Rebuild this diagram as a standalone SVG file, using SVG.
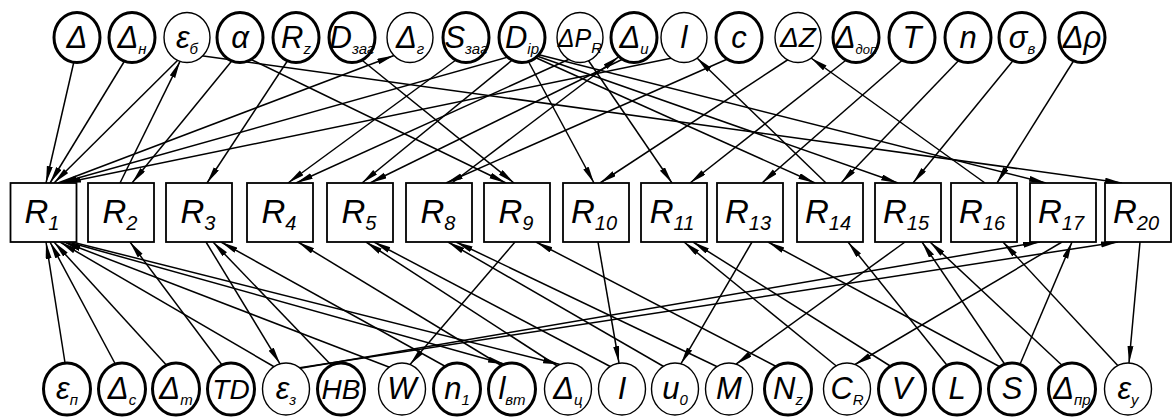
<svg xmlns="http://www.w3.org/2000/svg" width="1174" height="419" viewBox="0 0 1174 419">
<defs>
<marker id="ah" markerUnits="userSpaceOnUse" markerWidth="18" markerHeight="7" refX="17" refY="3" orient="auto">
<path d="M0,0 L17,3 L0,6 z" fill="#000"/>
</marker>
<style>
.nd{fill:#fff;stroke:#000}
.b{stroke-width:3}
.t{stroke-width:1.4}
.box{fill:#fff;stroke:#000;stroke-width:1.8}
.e{stroke:#000;stroke-width:1.5;fill:none}
.a{marker-end:url(#ah)}
text{font-family:"Liberation Sans Narrow","Liberation Sans","DejaVu Sans",sans-serif;font-style:italic;fill:#000;text-anchor:middle}
.m{font-size:31px}
.r{font-size:33px}
.s{font-size:15px}
.rs{font-size:20px}
</style>
</defs>
<rect width="1174" height="419" fill="#fff"/>
<g id="connectors">
<line class="e a" x1="75" y1="57" x2="46" y2="183"/>
<line class="e a" x1="127" y1="57" x2="50" y2="183"/>
<line class="e a" x1="181" y1="57" x2="54" y2="183"/>
<line class="e a" x1="196" y1="55" x2="1122" y2="183"/>
<line class="e a" x1="235" y1="57" x2="132" y2="183"/>
<line class="e a" x1="246" y1="57" x2="506" y2="183"/>
<line class="e a" x1="290" y1="57" x2="207" y2="183"/>
<line class="e a" x1="358" y1="57" x2="514" y2="183"/>
<line class="e a" x1="460" y1="57" x2="288" y2="183"/>
<line class="e a" x1="512" y1="56" x2="60" y2="183"/>
<line class="e a" x1="516" y1="57" x2="362" y2="183"/>
<line class="e a" x1="526" y1="57" x2="594" y2="183"/>
<line class="e a" x1="532" y1="56" x2="815" y2="183"/>
<line class="e a" x1="534" y1="55" x2="898" y2="183"/>
<line class="e a" x1="536" y1="54" x2="1046" y2="183"/>
<line class="e a" x1="574" y1="57" x2="296" y2="183"/>
<line class="e a" x1="586" y1="57" x2="672" y2="183"/>
<line class="e a" x1="627" y1="57" x2="370" y2="183"/>
<line class="e a" x1="677" y1="57" x2="64" y2="183"/>
<line class="e a" x1="732" y1="57" x2="446" y2="183"/>
<line class="e a" x1="792" y1="57" x2="600" y2="183"/>
<line class="e a" x1="850" y1="57" x2="690" y2="183"/>
<line class="e a" x1="906" y1="57" x2="762" y2="183"/>
<line class="e a" x1="962" y1="57" x2="841" y2="183"/>
<line class="e a" x1="1016" y1="57" x2="913" y2="183"/>
<line class="e a" x1="1076" y1="57" x2="997" y2="183"/>
<line class="e a" x1="120" y1="183" x2="180" y2="61.4"/>
<line class="e a" x1="58" y1="183" x2="394" y2="55.5"/>
<line class="e a" x1="452" y1="183" x2="619" y2="56.5"/>
<line class="e a" x1="826" y1="183" x2="697" y2="58"/>
<line class="e a" x1="985" y1="183" x2="811" y2="58"/>
<line class="e a" x1="66" y1="369" x2="46" y2="242"/>
<line class="e a" x1="118" y1="369" x2="50" y2="242"/>
<line class="e a" x1="170" y1="369" x2="54" y2="242"/>
<line class="e a" x1="278" y1="369" x2="60" y2="242"/>
<line class="e a" x1="394" y1="369" x2="64" y2="242"/>
<line class="e a" x1="68" y1="242" x2="505" y2="364.2"/>
<line class="e a" x1="72" y1="242" x2="560" y2="364.5"/>
<line class="e a" x1="225" y1="369" x2="130" y2="242"/>
<line class="e a" x1="206" y1="242" x2="280" y2="363.8"/>
<line class="e a" x1="335" y1="369" x2="213" y2="242"/>
<line class="e a" x1="450" y1="369" x2="221" y2="242"/>
<line class="e a" x1="507" y1="369" x2="298" y2="242"/>
<line class="e a" x1="562" y1="369" x2="366" y2="242"/>
<line class="e a" x1="615" y1="369" x2="374" y2="242"/>
<line class="e a" x1="668" y1="369" x2="448" y2="242"/>
<line class="e a" x1="722" y1="369" x2="456" y2="242"/>
<line class="e a" x1="515" y1="242" x2="410" y2="364.5"/>
<line class="e a" x1="781" y1="369" x2="536" y2="242"/>
<line class="e a" x1="598" y1="242" x2="619" y2="363"/>
<line class="e a" x1="840" y1="369" x2="684" y2="242"/>
<line class="e a" x1="895" y1="369" x2="693" y2="242"/>
<line class="e a" x1="752" y1="242" x2="681" y2="363.7"/>
<line class="e a" x1="1004" y1="369" x2="768" y2="242"/>
<line class="e a" x1="950" y1="369" x2="848" y2="242"/>
<line class="e a" x1="1008" y1="369" x2="922" y2="242"/>
<line class="e a" x1="1066" y1="369" x2="930" y2="242"/>
<line class="e a" x1="1121" y1="369" x2="1003" y2="242"/>
<line class="e a" x1="905" y1="242" x2="736" y2="364.2"/>
<line class="e a" x1="1062" y1="242" x2="855" y2="364.5"/>
<line class="e a" x1="1018" y1="369" x2="1072" y2="242"/>
<line class="e a" x1="1140" y1="242" x2="1129" y2="363"/>
<line class="e a" x1="296" y1="369" x2="1040" y2="242"/>
<line class="e a" x1="298" y1="368" x2="1118" y2="242"/>
</g>
<g id="t_delta"><ellipse class="nd b" cx="77" cy="37.5" rx="23" ry="25"/><text class="m" x="77" y="48">Δ</text></g>
<g id="t_deltaN"><ellipse class="nd b" cx="132" cy="37.5" rx="23" ry="25"/><text class="m" x="132" y="48">Δ<tspan class="s" dy="6">н</tspan></text></g>
<g id="t_epsB"><ellipse class="nd t" cx="187" cy="37.5" rx="23" ry="25"/><text class="m" x="187" y="48">ε<tspan class="s" dy="6">б</tspan></text></g>
<g id="t_alpha"><ellipse class="nd b" cx="240" cy="37.5" rx="23" ry="25"/><text class="m" x="240" y="48">α</text></g>
<g id="t_Rz"><ellipse class="nd b" cx="296" cy="37.5" rx="23" ry="25"/><text class="m" x="296" y="48">R<tspan class="s" dy="6">z</tspan></text></g>
<g id="t_Dzag"><ellipse class="nd b" cx="352" cy="37.5" rx="23" ry="25"/><text class="m" x="352" y="48">D<tspan class="s" dy="6">заг</tspan></text></g>
<g id="t_deltaG"><ellipse class="nd t" cx="410" cy="37.5" rx="23" ry="25"/><text class="m" x="410" y="48">Δ<tspan class="s" dy="6">г</tspan></text></g>
<g id="t_Szag"><ellipse class="nd b" cx="466" cy="37.5" rx="23" ry="25"/><text class="m" x="466" y="48">S<tspan class="s" dy="6">заг</tspan></text></g>
<g id="t_Dip"><ellipse class="nd b" cx="522" cy="37.5" rx="23" ry="25"/><text class="m" x="522" y="48">D<tspan class="s" dy="6">ip</tspan></text></g>
<g id="t_dPR"><ellipse class="nd t" cx="580" cy="37.5" rx="23" ry="25"/><text class="m" x="580" y="47" style="font-size:25px">ΔP<tspan class="s" dy="6">R</tspan></text></g>
<g id="t_deltaI"><ellipse class="nd b" cx="634" cy="37.5" rx="23" ry="25"/><text class="m" x="634" y="48">Δ<tspan class="s" dy="6">и</tspan></text></g>
<g id="t_l"><ellipse class="nd t" cx="684" cy="37.5" rx="23" ry="25"/><text class="m" x="684" y="48">l</text></g>
<g id="t_c"><ellipse class="nd b" cx="739" cy="37.5" rx="23" ry="25"/><text class="m" x="739" y="48">c</text></g>
<g id="t_dZ"><ellipse class="nd t" cx="798" cy="37.5" rx="23" ry="25"/><text class="m" x="798" y="47" style="font-size:28px">ΔZ</text></g>
<g id="t_dDop"><ellipse class="nd b" cx="856" cy="37.5" rx="23" ry="25"/><text class="m" x="856" y="48">Δ<tspan class="s" dy="6" style="font-size:13px">доп</tspan></text></g>
<g id="t_T"><ellipse class="nd b" cx="912" cy="37.5" rx="23" ry="25"/><text class="m" x="912" y="48">T</text></g>
<g id="t_n"><ellipse class="nd b" cx="968" cy="37.5" rx="23" ry="25"/><text class="m" x="968" y="48">n</text></g>
<g id="t_sigma"><ellipse class="nd b" cx="1022" cy="37.5" rx="23" ry="25"/><text class="m" x="1022" y="48">σ<tspan class="s" dy="6">в</tspan></text></g>
<g id="t_rho"><ellipse class="nd b" cx="1082" cy="37.5" rx="23" ry="25"/><text class="m" x="1082" y="48">Δρ</text></g>
<g id="R1"><rect class="box" x="10.5" y="183" width="66" height="59"/><text class="r" x="42" y="223">R<tspan class="rs" dy="7">1</tspan></text></g>
<g id="R2"><rect class="box" x="88" y="183" width="66" height="59"/><text class="r" x="120" y="223">R<tspan class="rs" dy="7">2</tspan></text></g>
<g id="R3"><rect class="box" x="166" y="183" width="66" height="59"/><text class="r" x="198" y="223">R<tspan class="rs" dy="7">3</tspan></text></g>
<g id="R4"><rect class="box" x="247" y="183" width="66" height="59"/><text class="r" x="279" y="223">R<tspan class="rs" dy="7">4</tspan></text></g>
<g id="R5"><rect class="box" x="327" y="183" width="66" height="59"/><text class="r" x="359" y="223">R<tspan class="rs" dy="7">5</tspan></text></g>
<g id="R8"><rect class="box" x="406" y="183" width="66" height="59"/><text class="r" x="438" y="223">R<tspan class="rs" dy="7">8</tspan></text></g>
<g id="R9"><rect class="box" x="484" y="183" width="66" height="59"/><text class="r" x="516" y="223">R<tspan class="rs" dy="7">9</tspan></text></g>
<g id="R10"><rect class="box" x="563" y="183" width="66" height="59"/><text class="r" x="594" y="223">R<tspan class="rs" dy="7">10</tspan></text></g>
<g id="R11"><rect class="box" x="641" y="183" width="66" height="59"/><text class="r" x="672" y="223">R<tspan class="rs" dy="7">11</tspan></text></g>
<g id="R13"><rect class="box" x="717" y="183" width="66" height="59"/><text class="r" x="748" y="223">R<tspan class="rs" dy="7">13</tspan></text></g>
<g id="R14"><rect class="box" x="797" y="183" width="66" height="59"/><text class="r" x="828" y="223">R<tspan class="rs" dy="7">14</tspan></text></g>
<g id="R15"><rect class="box" x="875" y="183" width="66" height="59"/><text class="r" x="906" y="223">R<tspan class="rs" dy="7">15</tspan></text></g>
<g id="R16"><rect class="box" x="951" y="183" width="66" height="59"/><text class="r" x="982" y="223">R<tspan class="rs" dy="7">16</tspan></text></g>
<g id="R17"><rect class="box" x="1030" y="183" width="66" height="59"/><text class="r" x="1061" y="223">R<tspan class="rs" dy="7">17</tspan></text></g>
<g id="R20"><rect class="box" x="1105" y="183" width="66" height="59"/><text class="r" x="1136" y="223">R<tspan class="rs" dy="7">20</tspan></text></g>
<g id="b_epsP"><ellipse class="nd b" cx="67" cy="389" rx="23.5" ry="26"/><text class="m" x="67" y="399">ε<tspan class="s" dy="6">п</tspan></text></g>
<g id="b_dC"><ellipse class="nd b" cx="122" cy="389" rx="23.5" ry="26"/><text class="m" x="122" y="399">Δ<tspan class="s" dy="6">с</tspan></text></g>
<g id="b_dT"><ellipse class="nd b" cx="176" cy="389" rx="23.5" ry="26"/><text class="m" x="176" y="399">Δ<tspan class="s" dy="6">т</tspan></text></g>
<g id="b_TD"><ellipse class="nd b" cx="231" cy="389" rx="23.5" ry="26"/><text class="m" x="231" y="399" style="font-size:28px">TD</text></g>
<g id="b_epsZ"><ellipse class="nd t" cx="286" cy="389" rx="23.5" ry="26"/><text class="m" x="286" y="399">ε<tspan class="s" dy="6">з</tspan></text></g>
<g id="b_HB"><ellipse class="nd b" cx="341" cy="389" rx="23.5" ry="26"/><text class="m" x="341" y="399" style="font-size:28px">HB</text></g>
<g id="b_W"><ellipse class="nd t" cx="402" cy="389" rx="23.5" ry="26"/><text class="m" x="402" y="399">W</text></g>
<g id="b_n1"><ellipse class="nd b" cx="457" cy="389" rx="23.5" ry="26"/><text class="m" x="457" y="399">n<tspan class="s" dy="6">1</tspan></text></g>
<g id="b_lvt"><ellipse class="nd b" cx="512" cy="389" rx="23.5" ry="26"/><text class="m" x="512" y="399">l<tspan class="s" dy="6">вт</tspan></text></g>
<g id="b_dTs"><ellipse class="nd t" cx="568" cy="389" rx="23.5" ry="26"/><text class="m" x="568" y="399">Δ<tspan class="s" dy="6">ц</tspan></text></g>
<g id="b_I"><ellipse class="nd t" cx="622" cy="389" rx="23.5" ry="26"/><text class="m" x="622" y="399">I</text></g>
<g id="b_u0"><ellipse class="nd t" cx="675" cy="389" rx="23.5" ry="26"/><text class="m" x="675" y="399">u<tspan class="s" dy="6">0</tspan></text></g>
<g id="b_M"><ellipse class="nd t" cx="729" cy="389" rx="23.5" ry="26"/><text class="m" x="729" y="399">M</text></g>
<g id="b_Nz"><ellipse class="nd b" cx="788" cy="389" rx="23.5" ry="26"/><text class="m" x="788" y="399">N<tspan class="s" dy="6">z</tspan></text></g>
<g id="b_CR"><ellipse class="nd t" cx="847" cy="389" rx="23.5" ry="26"/><text class="m" x="847" y="399">C<tspan class="s" dy="6">R</tspan></text></g>
<g id="b_V"><ellipse class="nd b" cx="902" cy="389" rx="23.5" ry="26"/><text class="m" x="902" y="399">V</text></g>
<g id="b_L"><ellipse class="nd b" cx="957" cy="389" rx="23.5" ry="26"/><text class="m" x="957" y="399">L</text></g>
<g id="b_S"><ellipse class="nd b" cx="1012" cy="389" rx="23.5" ry="26"/><text class="m" x="1012" y="399">S</text></g>
<g id="b_dPr"><ellipse class="nd b" cx="1072" cy="389" rx="23.5" ry="26"/><text class="m" x="1072" y="399">Δ<tspan class="s" dy="6">пр</tspan></text></g>
<g id="b_epsU"><ellipse class="nd t" cx="1128" cy="389" rx="23.5" ry="26"/><text class="m" x="1128" y="399">ε<tspan class="s" dy="6">у</tspan></text></g>
</svg>
